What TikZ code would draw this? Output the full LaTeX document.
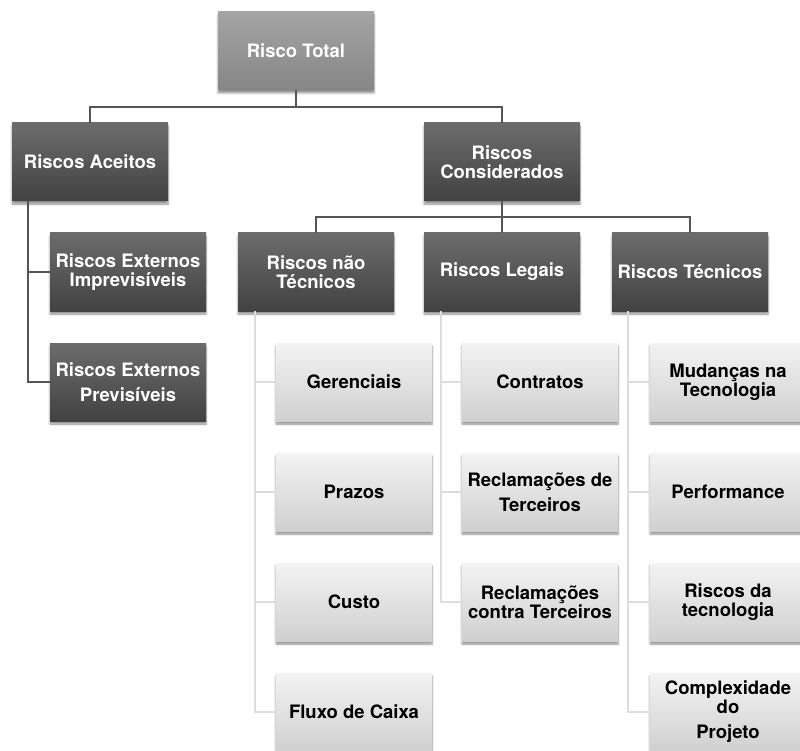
\documentclass[tikz,border=0pt]{standalone}
\usepackage{fontspec}
\setmainfont{TeX Gyre Heros}
\usetikzlibrary{shadows.blur}
\definecolor{darktop}{HTML}{6C6C6C}
\definecolor{darkbot}{HTML}{424242}
\definecolor{lighttop}{HTML}{F3F3F3}
\definecolor{lightbot}{HTML}{D0D0D0}
\definecolor{roottop}{HTML}{A4A4A4}
\definecolor{rootbot}{HTML}{868686}
\definecolor{darkline}{HTML}{555555}
\definecolor{lightline}{HTML}{DDDDDD}
\tikzset{
  box/.style={rectangle, minimum width=156pt, minimum height=78pt, inner sep=0pt,
    align=center, font=\fontsize{18.5}{19}\selectfont\bfseries,
    blur shadow={shadow xshift=0pt, shadow yshift=-3pt, shadow blur steps=6, shadow opacity=45}},
  rootbox/.style={box, top color=roottop, bottom color=rootbot, text=white},
  darkbox/.style={box, top color=darktop, bottom color=darkbot, text=white},
  lightbox/.style={box, top color=lighttop, bottom color=lightbot, text=black},
  darkconn/.style={draw=darkline, line width=1.6pt},
  lightconn/.style={draw=lightline, line width=2.4pt},
}
\begin{document}
\begin{tikzpicture}[x=1pt, y=-1pt]
\useasboundingbox (0,0) rectangle (800,751);

% junction points of the upper levels
\coordinate (b1) at (296,107);
\coordinate (b2) at (502,217);
\coordinate (a1) at (28,201);
% tops of the light spines of the lower levels
\coordinate (c1) at (255,311);
\coordinate (c2) at (441,311);
\coordinate (c3) at (628,311);

% hierarchy boxes
\node[rootbox] (tot) at (296,51) {Risco Total};
\node[darkbox] (aceitos) at (90,162) {Riscos Aceitos};
\node[darkbox] (consid) at (502,162) {Riscos\\Considerados};
\node[darkbox] (imprev) at (128,272) {Riscos Externos\\Imprevisíveis};
\node[darkbox] (prev) at (128,382) {Riscos Externos\\[6pt]Previsíveis};
\node[darkbox] (naotec) at (316,272) {Riscos não\\Técnicos};
\node[darkbox] (legais) at (502,272) {Riscos Legais};
\node[darkbox] (tecn) at (690,272) {Riscos Técnicos};

% non-technical risks
\node[lightbox] (ger) at (354,382) {Gerenciais};
\node[lightbox] (praz) at (354,492) {Prazos};
\node[lightbox] (custo) at (354,602) {Custo};
\node[lightbox] (fluxo) at (354,712) {Fluxo de Caixa};

% legal risks
\node[lightbox] (contr) at (540,382) {Contratos};
\node[lightbox] (recl) at (540,492) {Reclamações de\\[6pt]Terceiros};
\node[lightbox] (rcontra) at (540,602) {Reclamações\\contra Terceiros};

% technical risks
\node[lightbox] (mud) at (728,382) {Mudanças na\\Tecnologia};
\node[lightbox] (perf) at (728,492) {Performance};
\node[lightbox] (rtec) at (728,602) {Riscos da\\tecnologia};
\node[lightbox] (compl) at (728,712) {Complexidade\\do\\[6pt]Projeto};

% dark connectors
\path[darkconn] (tot.south) -- (b1);
\path[darkconn] (b1) -| (aceitos.north);
\path[darkconn] (b1) -| (consid.north);
\path[darkconn] (consid.south) -- (b2);
\path[darkconn] (b2) -| (naotec.north);
\path[darkconn] (b2) -- (legais.north);
\path[darkconn] (b2) -| (tecn.north);
\path[darkconn] (a1) |- (imprev.west);
\path[darkconn] (a1) |- (prev.west);

% light connectors
\path[lightconn] (c1) |- (ger.west);
\path[lightconn] (c1) |- (praz.west);
\path[lightconn] (c1) |- (custo.west);
\path[lightconn] (c1) |- (fluxo.west);
\path[lightconn] (c2) |- (contr.west);
\path[lightconn] (c2) |- (recl.west);
\path[lightconn] (c2) |- (rcontra.west);
\path[lightconn] (c3) |- (mud.west);
\path[lightconn] (c3) |- (perf.west);
\path[lightconn] (c3) |- (rtec.west);
\path[lightconn] (c3) |- (compl.west);
\end{tikzpicture}
\end{document}
